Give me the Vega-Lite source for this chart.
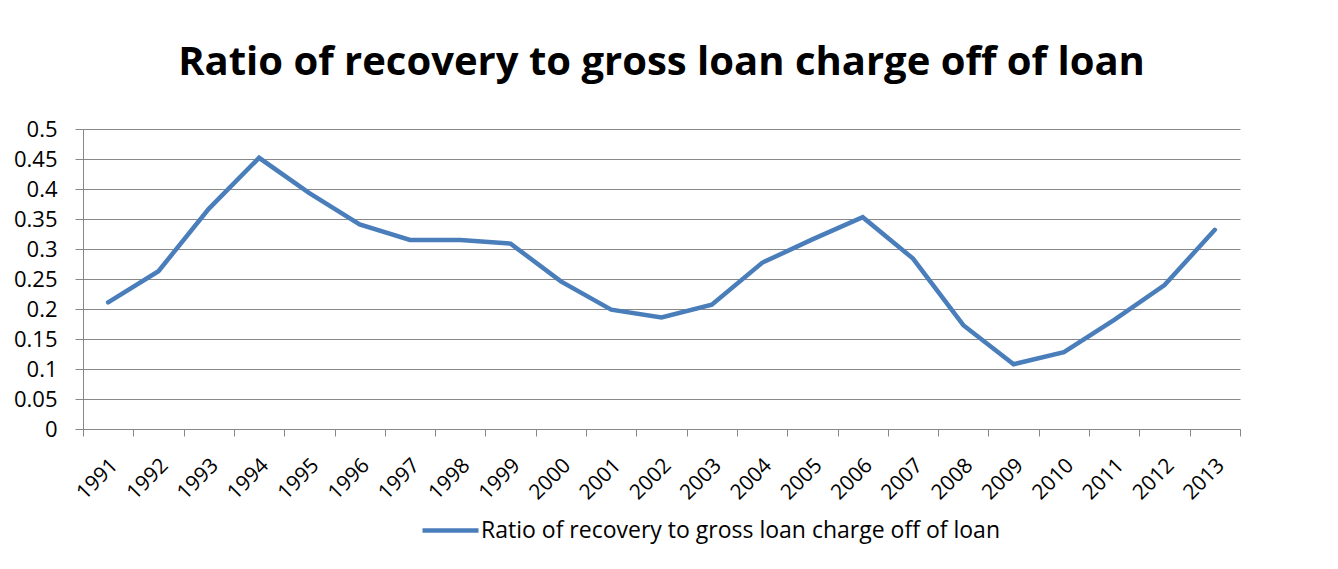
{
  "$schema": "https://vega.github.io/schema/vega-lite/v6.json",
  "width": 1157,
  "height": 300,
  "autosize": "none",
  "padding": {"left": 83, "top": 129, "right": 98, "bottom": 140},
  "background": "white",
  "title": {
    "text": "Ratio of recovery to gross loan charge off of loan",
    "font": "Open Sans",
    "fontSize": 40,
    "fontWeight": "bold",
    "color": "#000000",
    "anchor": "middle",
    "frame": "group",
    "baseline": "alphabetic",
    "offset": 3
  },
  "data": {
    "values": [
      {"year": "1991", "ratio": 0.211},
      {"year": "1992", "ratio": 0.263},
      {"year": "1993", "ratio": 0.367},
      {"year": "1994", "ratio": 0.452},
      {"year": "1995", "ratio": 0.393},
      {"year": "1996", "ratio": 0.341},
      {"year": "1997", "ratio": 0.315},
      {"year": "1998", "ratio": 0.315},
      {"year": "1999", "ratio": 0.309},
      {"year": "2000", "ratio": 0.246},
      {"year": "2001", "ratio": 0.199},
      {"year": "2002", "ratio": 0.186},
      {"year": "2003", "ratio": 0.207},
      {"year": "2004", "ratio": 0.277},
      {"year": "2005", "ratio": 0.316},
      {"year": "2006", "ratio": 0.353},
      {"year": "2007", "ratio": 0.284},
      {"year": "2008", "ratio": 0.173},
      {"year": "2009", "ratio": 0.108},
      {"year": "2010", "ratio": 0.128},
      {"year": "2011", "ratio": 0.182},
      {"year": "2012", "ratio": 0.24},
      {"year": "2013", "ratio": 0.332}
    ]
  },
  "mark": {"type": "line", "strokeWidth": 4.5, "strokeCap": "round", "strokeJoin": "miter"},
  "encoding": {
    "x": {
      "field": "year",
      "type": "ordinal",
      "scale": {"type": "band", "paddingInner": 0, "paddingOuter": 0},
      "axis": {
        "title": null,
        "labelAngle": -45,
        "labelAlign": "right",
        "labelBaseline": "middle",
        "labelFont": "Open Sans",
        "labelFontSize": 21,
        "labelColor": "#000000",
        "labelPadding": 26,
        "labelOffset": 6,
        "tickBand": "extent",
        "tickSize": 7,
        "tickColor": "#888888",
        "domainColor": "#888888",
        "grid": false,
        "labelOverlap": false
      }
    },
    "y": {
      "field": "ratio",
      "type": "quantitative",
      "scale": {"domain": [0, 0.5], "nice": false},
      "axis": {
        "title": null,
        "values": [0, 0.05, 0.1, 0.15, 0.2, 0.25, 0.3, 0.35, 0.4, 0.45, 0.5],
        "format": "~g",
        "labelFont": "Open Sans",
        "labelFontSize": 22,
        "labelColor": "#000000",
        "labelPadding": 18,
        "tickSize": 8,
        "tickColor": "#888888",
        "domainColor": "#888888",
        "gridColor": "#888888",
        "gridWidth": 1.2,
        "gridOpacity": 1
      }
    },
    "color": {
      "datum": "Ratio of recovery to gross loan charge off of loan",
      "type": "nominal",
      "scale": {"range": ["#4a7ebb"]},
      "legend": {
        "title": null,
        "orient": "none",
        "legendX": 337,
        "legendY": 371,
        "symbolType": "stroke",
        "symbolSize": 3136,
        "symbolStrokeWidth": 4.5,
        "labelFont": "Open Sans",
        "labelFontSize": 23,
        "labelColor": "#000000",
        "labelOffset": 0,
        "labelLimit": 900
      }
    }
  },
  "config": {"view": {"stroke": null}}
}
